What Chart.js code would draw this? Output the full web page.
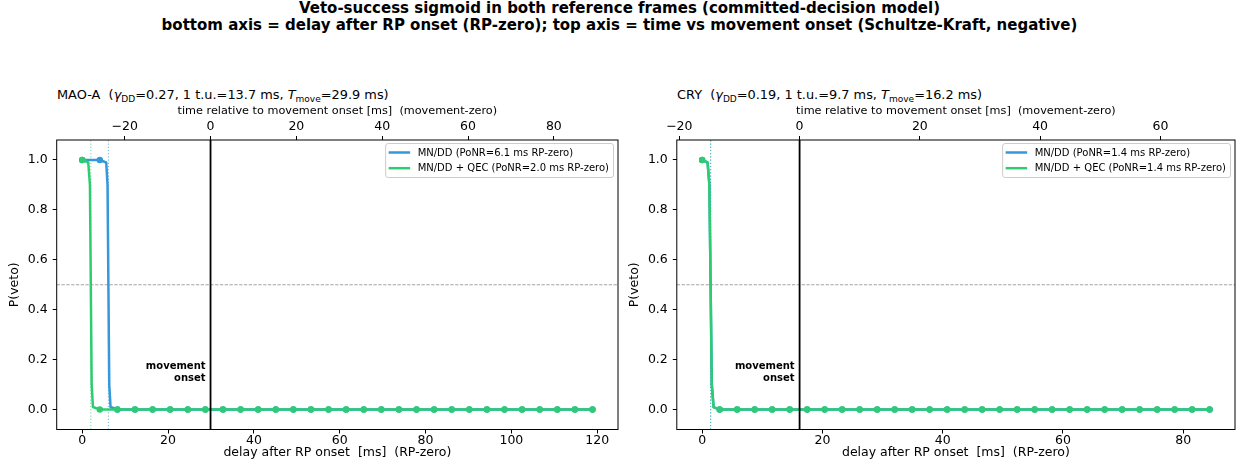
<!DOCTYPE html>
<html><head><meta charset="utf-8">
<script src="https://cdn.jsdelivr.net/npm/chart.js@4/dist/chart.umd.min.js"></script>
<style>
html,body{margin:0;padding:0;background:#fff;}
body{width:1239px;height:465px;position:relative;overflow:hidden;font-family:"DejaVu Sans",sans-serif;color:#000;}
#sup{position:absolute;left:0;top:0px;width:1239px;text-align:center;font-weight:bold;font-size:15px;line-height:17px;}
.pt{position:absolute;font-size:12.9px;white-space:pre;line-height:15px;}
.pt sub{font-size:0.7em;vertical-align:-0.3em;line-height:0;}
canvas{position:absolute;}
</style></head><body>
<div id="sup">Veto-success sigmoid in both reference frames (committed-decision model)<br>bottom axis = delay after RP onset (RP-zero); top axis = time vs movement onset (Schultze-Kraft, negative)</div>
<div class="pt" id="t0" style="left:57px;top:87px"></div>
<div class="pt" id="t1" style="left:677px;top:87px"></div>
<canvas id="c0" width="622" height="385" style="left:0;top:80px"></canvas>
<canvas id="c1" width="619" height="385" style="left:620px;top:80px"></canvas>
<script>
// ---------------- data ----------------
const panelNames = ['MAO-A', 'CRY'];
const gammaDD = [0.27, 0.19];
const tuMs = [13.7, 9.7];
const tMove = [29.9, 16.2];
const ponrMNDD = [6.1, 1.4];
const ponrQEC = [2.0, 1.4];

// marker grid (ms after RP onset)
const maoaMarkT = [0, 4.1, 8.2, 12.3, 16.4, 20.5, 24.6, 28.7, 32.8, 36.9, 41.0, 45.1, 49.2, 53.3, 57.4,
  61.5, 65.6, 69.7, 73.8, 77.9, 82.0, 86.1, 90.2, 94.3, 98.4, 102.5, 106.6, 110.7, 114.8, 118.9];
const maoaMNDD = [1, 1, 0, 0, 0, 0, 0, 0, 0, 0, 0, 0, 0, 0, 0, 0, 0, 0, 0, 0, 0, 0, 0, 0, 0, 0, 0, 0, 0, 0];
const maoaQEC  = [1, 0, 0, 0, 0, 0, 0, 0, 0, 0, 0, 0, 0, 0, 0, 0, 0, 0, 0, 0, 0, 0, 0, 0, 0, 0, 0, 0, 0, 0];
// steep drop samples
const maoaMNDDdropT = [5.6, 5.9, 6.1, 6.3, 6.6];
const maoaMNDDdropP = [0.99, 0.9, 0.5, 0.1, 0.01];
const maoaQECdropT  = [1.4, 1.8, 2.0, 2.2, 2.5];
const maoaQECdropP  = [0.99, 0.9, 0.5, 0.1, 0.01];

const cryMarkT = [0, 2.91, 5.82, 8.73, 11.64, 14.55, 17.46, 20.37, 23.28, 26.19, 29.1, 32.01, 34.92, 37.83, 40.74,
  43.65, 46.56, 49.47, 52.38, 55.29, 58.2, 61.11, 64.02, 66.93, 69.84, 72.75, 75.66, 78.57, 81.48, 84.39];
const cryMNDD = [1, 0, 0, 0, 0, 0, 0, 0, 0, 0, 0, 0, 0, 0, 0, 0, 0, 0, 0, 0, 0, 0, 0, 0, 0, 0, 0, 0, 0, 0];
const cryQEC  = [1, 0, 0, 0, 0, 0, 0, 0, 0, 0, 0, 0, 0, 0, 0, 0, 0, 0, 0, 0, 0, 0, 0, 0, 0, 0, 0, 0, 0, 0];
const cryMNDDdropT = [0.9, 1.2, 1.4, 1.6, 1.9];
const cryMNDDdropP = [0.99, 0.9, 0.5, 0.1, 0.01];
const cryQECdropT  = [0.9, 1.2, 1.4, 1.6, 1.9];
const cryQECdropP  = [0.99, 0.9, 0.5, 0.1, 0.01];

const maoaBottomTicks = [0, 20, 40, 60, 80, 100, 120];
const maoaTopTicks = [-20, 0, 20, 40, 60, 80];
const cryBottomTicks = [0, 20, 40, 60, 80];
const cryTopTicks = [-20, 0, 20, 40, 60];
const yTicks = [0, 0.2, 0.4, 0.6, 0.8, 1.0];
const halfLevel = 0.5;

// ---------------- styling ----------------
const BLUE = '#3498db', GREEN = '#2ecc71';
const FONT = '"DejaVu Sans", sans-serif';
const fTick = {family: FONT, size: 12.5};
const fLab = {family: FONT, size: 12.5};
const fTopLab = {family: FONT, size: 11.25};

function pts(xs, ys) { return xs.map((x, i) => ({x: x, y: ys[i]})); }
function mergeLine(mt, mp, dt, dp) {
  return pts(mt, mp).concat(pts(dt, dp)).sort((a, b) => a.x - b.x);
}
function fmtX(v) { return String(v).replace('-', '\u2212'); }

const frameAndText = {
  id: 'frameAndText',
  afterDatasetsDraw(chart) {
    const ctx = chart.ctx, ca = chart.chartArea, o = chart.options.plugins.frameAndText;
    ctx.save();
    const xs = chart.scales.x, ys = chart.scales.y;
    const px = xs.getPixelForValue(o.tMove) - 5, py = ys.getPixelForValue(0.15);
    ctx.font = 'bold 10px ' + FONT;
    ctx.fillStyle = '#000';
    ctx.textAlign = 'right';
    ctx.textBaseline = 'middle';
    ctx.fillText('movement', px, py - 6);
    ctx.fillText('onset', px, py + 6.5);
    ctx.strokeStyle = '#000';
    ctx.lineWidth = 1;
    ctx.strokeRect(ca.left, ca.top, ca.right - ca.left, ca.bottom - ca.top);
    ctx.restore();
  },
  afterDraw(chart) {
    const ctx = chart.ctx, ca = chart.chartArea;
    const ents = chart.data.datasets.filter(d => d.inLegend).sort((a, b) => a.legendRank - b.legendRank);
    ctx.save();
    ctx.font = '10px ' + FONT;
    const tw = Math.max(...ents.map(e => ctx.measureText(e.label).width));
    const w = 32 + tw + 4.5, h = 34;
    const x0 = ca.right - 4.5 - w, y0 = ca.top + 3.5;
    ctx.beginPath();
    if (ctx.roundRect) ctx.roundRect(x0, y0, w, h, 2.5); else ctx.rect(x0, y0, w, h);
    ctx.fillStyle = 'rgba(255,255,255,0.8)';
    ctx.fill();
    ctx.strokeStyle = '#cccccc';
    ctx.lineWidth = 1;
    ctx.stroke();
    ents.forEach((e, i) => {
      const cy = y0 + 9 + i * 15.7;
      ctx.beginPath();
      ctx.moveTo(x0 + 3, cy);
      ctx.lineTo(x0 + 24.5, cy);
      ctx.strokeStyle = e.borderColor;
      ctx.lineWidth = 2.5;
      ctx.stroke();
      ctx.fillStyle = '#000';
      ctx.textAlign = 'left';
      ctx.textBaseline = 'middle';
      ctx.fillText(e.label, x0 + 32, cy + 0.5);
    });
    ctx.restore();
  }
};

function makeChart(id, p) {
  const yMin = -0.08, yMax = 1.08;
  const vline = (x) => [{x: x, y: yMin}, {x: x, y: yMax}];
  const datasets = [
    {label: 'MN/DD + QEC (PoNR=' + p.ponrQ.toFixed(1) + ' ms RP-zero)', inLegend: true, legendRank: 2,
      data: mergeLine(p.markT, p.qec, p.qecDT, p.qecDP), showLine: true, borderColor: GREEN, borderWidth: 2.5,
      pointRadius: 0, order: 4, borderJoinStyle: 'round', borderCapStyle: 'round'},
    {label: 'qec markers', data: pts(p.markT, p.qec), showLine: false, pointRadius: 3.2,
      pointBackgroundColor: GREEN, pointBorderWidth: 0, order: 3.9},
    {label: 'MN/DD (PoNR=' + p.ponrM.toFixed(1) + ' ms RP-zero)', inLegend: true, legendRank: 1,
      data: mergeLine(p.markT, p.mndd, p.mnddDT, p.mnddDP), showLine: true, borderColor: BLUE, borderWidth: 2.5,
      pointRadius: 0, order: 6, borderJoinStyle: 'round', borderCapStyle: 'round'},
    {label: 'mndd markers', data: pts(p.markT, p.mndd), showLine: false, pointRadius: 3.2,
      pointBackgroundColor: BLUE, pointBorderWidth: 0, order: 5.9},
    {label: 'ponr mndd', data: vline(p.ponrM), showLine: true, borderColor: 'rgba(52,152,219,0.65)', borderWidth: 1.1,
      borderDash: [1.2, 2], pointRadius: 0, order: 8},
    {label: 'ponr qec', data: vline(p.ponrQ), showLine: true, borderColor: 'rgba(46,204,113,0.65)', borderWidth: 1.1,
      borderDash: [1.2, 2], pointRadius: 0, order: 8},
    {label: 'half', data: [{x: p.xMin, y: halfLevel}, {x: p.xMax, y: halfLevel}], showLine: true,
      borderColor: 'rgba(128,128,128,0.8)', borderWidth: 0.9, borderDash: [3.3, 1.5], pointRadius: 0, order: 9},
    {label: 'move', data: vline(p.tMove), showLine: true, borderColor: '#000', borderWidth: 1.8,
      pointRadius: 0, order: 1}
  ];
  const gridOpts = {drawOnChartArea: false, drawTicks: true, tickLength: 4, tickColor: '#000', tickWidth: 1};
  return new Chart(document.getElementById(id), {
    type: 'scatter',
    data: {datasets: datasets},
    plugins: [frameAndText],
    options: {
      responsive: false, animation: false, devicePixelRatio: 1,
      layout: {padding: {left: 0, top: 0, bottom: 0, right: p.padR}},
      plugins: {legend: {display: false}, tooltip: {enabled: false}, frameAndText: {tMove: p.tMove}},
      elements: {line: {tension: 0}},
      scales: {
        x: {type: 'linear', position: 'bottom', min: p.xMin, max: p.xMax,
          afterBuildTicks: s => { s.ticks = p.bottomTicks.map(v => ({value: v})); },
          afterFit: s => { s.height = 35.5; },
          ticks: {font: fTick, color: '#000', padding: 0, maxRotation: 0, autoSkip: false, callback: v => fmtX(v)},
          grid: gridOpts, border: {display: false},
          title: {display: true, text: 'delay after RP onset  [ms]  (RP-zero)', font: fLab, color: '#000',
            padding: {top: 0, bottom: 4.5}}},
        x2: {type: 'linear', position: 'top', min: p.xMin - p.tMove, max: p.xMax - p.tMove,
          afterBuildTicks: s => { s.ticks = p.topTicks.map(v => ({value: v})); },
          afterFit: s => { s.height = 60; },
          ticks: {font: fTick, color: '#000', padding: 2, maxRotation: 0, autoSkip: false, callback: v => fmtX(v)},
          grid: gridOpts, border: {display: false},
          title: {display: true, text: 'time relative to movement onset [ms]  (movement-zero)', font: fTopLab,
            color: '#000', padding: {top: 24, bottom: 0}}},
        y: {type: 'linear', position: 'left', min: yMin, max: yMax,
          afterBuildTicks: s => { s.ticks = yTicks.map(v => ({value: v})); },
          afterFit: s => { s.width = p.yW; },
          ticks: {font: fTick, color: '#000', padding: 5, callback: v => v.toFixed(1)},
          grid: gridOpts, border: {display: false},
          title: {display: true, text: 'P(veto)', font: fLab, color: '#000', padding: {top: 7.5, bottom: 0}}}
      }
    }
  });
}

const panels = [
  {markT: maoaMarkT, mndd: maoaMNDD, qec: maoaQEC, mnddDT: maoaMNDDdropT, mnddDP: maoaMNDDdropP,
    qecDT: maoaQECdropT, qecDP: maoaQECdropP, ponrM: ponrMNDD[0], ponrQ: ponrQEC[0], tMove: tMove[0],
    xMin: -5.945, xMax: 124.845, bottomTicks: maoaBottomTicks, topTicks: maoaTopTicks, yW: 56.7, padR: 2.1},
  {markT: cryMarkT, mndd: cryMNDD, qec: cryQEC, mnddDT: cryMNDDdropT, mnddDP: cryMNDDdropP,
    qecDT: cryQECdropT, qecDP: cryQECdropP, ponrM: ponrMNDD[1], ponrQ: ponrQEC[1], tMove: tMove[1],
    xMin: -4.22, xMax: 88.61, bottomTicks: cryBottomTicks, topTicks: cryTopTicks, yW: 56.8, padR: 0.6}
];

panels.forEach((p, i) => {
  document.getElementById('t' + i).innerHTML = panelNames[i] + '  (<i>\u03b3</i><sub>DD</sub>=' +
    gammaDD[i].toFixed(2) + ', 1 t.u.=' + tuMs[i].toFixed(1) + ' ms, <i>T</i><sub>move</sub>=' +
    tMove[i].toFixed(1) + ' ms)';
  makeChart('c' + i, p);
});
</script>
</body></html>
